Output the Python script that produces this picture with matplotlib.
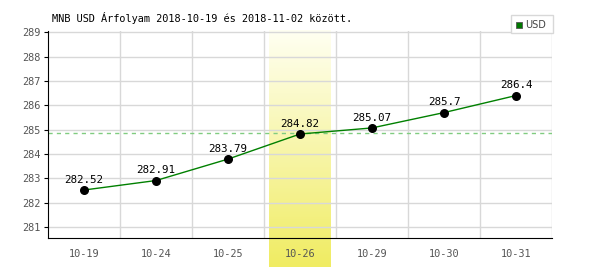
import matplotlib
matplotlib.use("Agg")
import matplotlib.pyplot as plt
import numpy as np
from matplotlib.colors import LinearSegmentedColormap
from matplotlib.patches import Rectangle

dates = ["10-19", "10-24", "10-25", "10-26", "10-29", "10-30", "10-31"]
values = [282.52, 282.91, 283.79, 284.82, 285.07, 285.7, 286.4]
yticks = [281, 282, 283, 284, 285, 286, 287, 288, 289]
ref_level = 284.85
highlight_idx = 3
title = "MNB USD Árfolyam 2018-10-19 és 2018-11-02 között."
legend_label = "USD"

plt.rcParams['font.family'] = ['DejaVu Sans Mono']
FS = 7.4

fig = plt.figure(figsize=(6, 2.7), dpi=100)
ax = fig.add_axes([48/600, 1-238/270, 504/600, 207/270])
x = np.arange(len(dates))

ax.set_xlim(-0.5, len(dates) - 0.5)
ax.set_ylim(280.55, 289.05)

grad = np.linspace(0, 1, 256).reshape(-1, 1)
cmap = LinearSegmentedColormap.from_list("hl", ["#fffff2", "#f0ec62"])
ax.imshow(grad, aspect='auto', cmap=cmap,
          extent=(highlight_idx - 0.43, highlight_idx + 0.43, 279.35, 289.05),
          origin='upper', zorder=0, clip_on=False)

for i in range(len(dates)):
    ax.axvline(i + 0.5, color="#d8d8d8", lw=1, zorder=1)
for t in yticks:
    ax.axhline(t, color="#d8d8d8", lw=1, zorder=1)

ax.axhline(ref_level, color="#80cc80", lw=1, ls=(0, (3, 3)), zorder=2)

ax.plot(x, values, color="#008000", lw=1, zorder=3)
ax.scatter(x, values, s=30, color="black", zorder=4)
for xi, v in zip(x, values):
    ax.text(xi, v + 0.22, f"{v:g}", ha="center", va="bottom", fontsize=FS + 0.4, color="black", zorder=5)

ax.set_xticks(x)
ax.set_xticklabels(dates)
ax.set_yticks(yticks)
ax.tick_params(axis='x', length=0, pad=8, labelsize=FS, labelcolor="#555555")
ax.tick_params(axis='y', length=3, pad=2, labelsize=FS, labelcolor="#555555", direction='out')
for s in ["top", "right"]:
    ax.spines[s].set_visible(False)
ax.spines["left"].set_color("black")
ax.spines["bottom"].set_color("black")

fig.text(52/600, 1-18/270, title, fontsize=FS, va="center", ha="left")

fig.patches.append(Rectangle((511/600, 1-33/270), 42/600, 18/270, transform=fig.transFigure,
                             facecolor="white", edgecolor="#d8d8d8", lw=1, zorder=10))
fig.patches.append(Rectangle((516/600, 1-28/270), 6/600, 6/270, transform=fig.transFigure,
                             facecolor="#007700", edgecolor="#555555", lw=0.6, zorder=11))
fig.text(525/600, 1-24.5/270, legend_label, fontsize=7, va="center", ha="left", color="#444444",
         family="DejaVu Sans", zorder=12)

fig.savefig("out.png", dpi=100)
